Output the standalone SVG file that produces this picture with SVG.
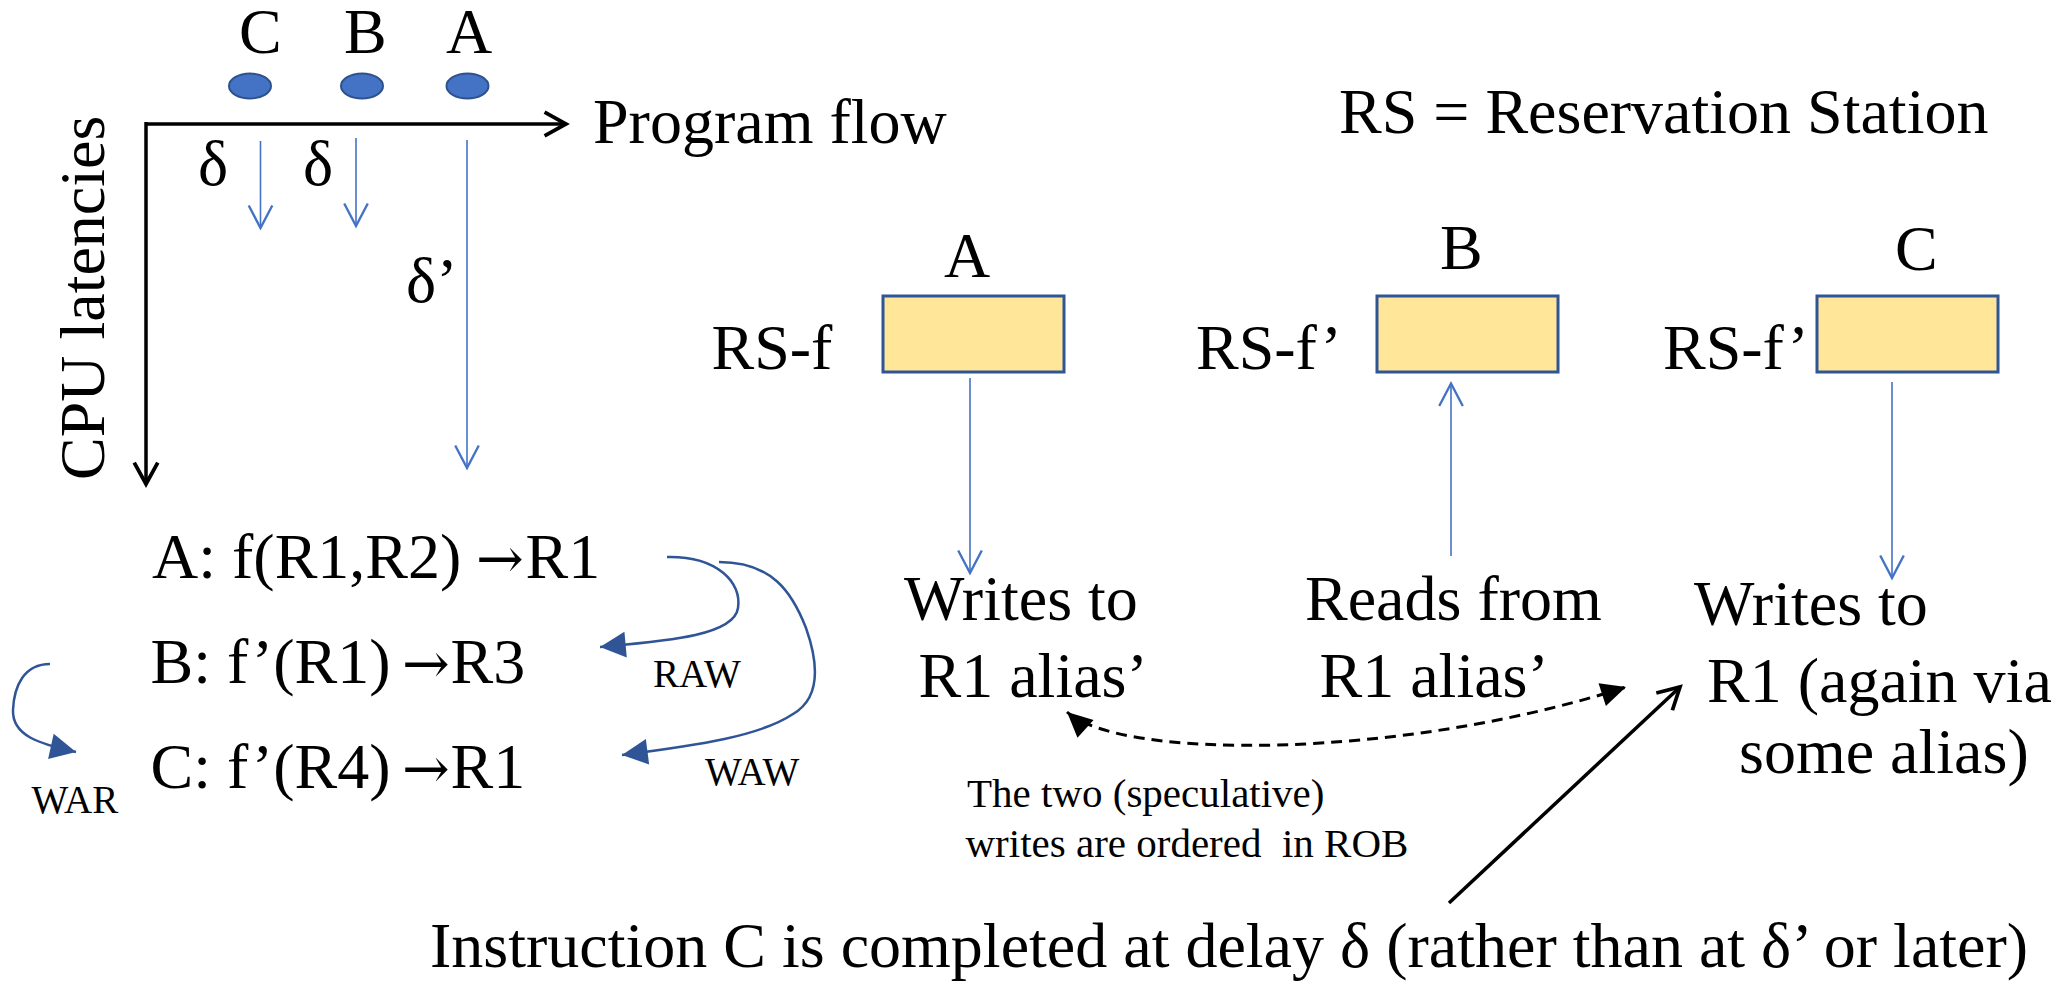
<svg xmlns="http://www.w3.org/2000/svg" width="2064" height="981" viewBox="0 0 2064 981">
<style>
text{font-family:"Liberation Serif","Times New Roman",serif;fill:#000}
.t64{font-size:64px}
.t39{font-size:39px}
.t41{font-size:41px}
.arr{font-family:"DejaVu Serif",serif;font-size:57px}
.box{fill:#FFE699;stroke:#2F5597;stroke-width:3}
.dot{fill:#4472C4;stroke:#2F528F;stroke-width:2}
.thin{fill:none;stroke:#4472C4;stroke-width:1.6}
.axis{fill:none;stroke:#000;stroke-width:3.5}
.dep{fill:none;stroke:#2F5597;stroke-width:2.5}
.dash{fill:none;stroke:#000;stroke-width:3;stroke-dasharray:11 7}
.solid{fill:none;stroke:#000;stroke-width:3.5}
</style>
<defs>
<marker id="openBlue" markerUnits="userSpaceOnUse" markerWidth="30" markerHeight="30" viewBox="-24 -14 28 28" refX="0" refY="0" orient="auto">
<path d="M-21,-11 L0,0 L-21,11" fill="none" stroke="#4472C4" stroke-width="2.2"/>
</marker>
<marker id="openBlack" markerUnits="userSpaceOnUse" markerWidth="30" markerHeight="30" viewBox="-24 -14 28 28" refX="0" refY="0" orient="auto">
<path d="M-20,-11 L0,0 L-20,11" fill="none" stroke="#000" stroke-width="3.5"/>
</marker>
<marker id="fillBlue" markerUnits="userSpaceOnUse" markerWidth="30" markerHeight="30" viewBox="-26 -14 28 28" refX="0" refY="0" orient="auto">
<path d="M0,0 L-24,-12 L-24,12 Z" fill="#2F5597"/>
</marker>
<marker id="fillBlack" markerUnits="userSpaceOnUse" markerWidth="30" markerHeight="30" viewBox="-27 -14 30 28" refX="0" refY="0" orient="auto-start-reverse">
<path d="M0,0 L-25,-12 L-25,12 Z" fill="#000"/>
</marker>
</defs>
<rect width="2064" height="981" fill="#fff"/>

<g id="axes">
<path class="axis" d="M146,124 H566" marker-end="url(#openBlack)"/>
<path class="axis" d="M146,122 V484" marker-end="url(#openBlack)"/>
<text class="t64" x="593" y="143">Program flow</text>
<text class="t64" transform="translate(104,480) rotate(-90)">CPU latencies</text>
</g>

<g id="instr-C-dot">
<text class="t64" x="239" y="53">C</text>
<ellipse class="dot" cx="250" cy="86" rx="21" ry="12.5"/>
</g>
<g id="instr-B-dot">
<text class="t64" x="344" y="53">B</text>
<ellipse class="dot" cx="362" cy="86" rx="21" ry="12.5"/>
</g>
<g id="instr-A-dot">
<text class="t64" x="446" y="53">A</text>
<ellipse class="dot" cx="467.5" cy="86" rx="21" ry="12.5"/>
</g>

<g id="latency-labels">
<text class="t64" x="198" y="185">δ</text>
<text class="t64" x="303" y="185">δ</text>
<text class="t64" x="406" y="302">δ’</text>
</g>

<g id="instr-A">
<text class="t64" x="152" y="578">A: f(R1,R2) <tspan class="arr" x="476">→</tspan><tspan x="525.5">R1</tspan></text>
</g>
<g id="instr-B">
<text class="t64" x="150.5" y="683">B: f’(R1) <tspan class="arr" x="402">→</tspan><tspan x="450.5">R3</tspan></text>
</g>
<g id="instr-C">
<text class="t64" x="150.5" y="788">C: f’(R4) <tspan class="arr" x="402">→</tspan><tspan x="450.5">R1</tspan></text>
</g>

<g id="dep-labels">
<text class="t39" x="653" y="687">RAW</text>
<text class="t39" x="705" y="785">WAW</text>
<text class="t39" x="31.5" y="813">WAR</text>
</g>

<g id="legend">
<text class="t64" x="1339" y="133">RS = Reservation Station</text>
</g>

<g id="rs-A">
<text class="t64" x="944" y="277">A</text>
<text class="t64" x="711.5" y="369">RS-f</text>
<rect class="box" x="883" y="296" width="181" height="76"/>
</g>
<g id="rs-B">
<text class="t64" x="1440" y="269">B</text>
<text class="t64" x="1196" y="369">RS-f’</text>
<rect class="box" x="1377" y="296" width="181" height="76"/>
</g>
<g id="rs-C">
<text class="t64" x="1895" y="270">C</text>
<text class="t64" x="1663" y="369">RS-f’</text>
<rect class="box" x="1817" y="296" width="181" height="76"/>
</g>

<g id="action-A">
<text class="t64" x="904" y="620">Writes to</text>
<text class="t64" x="918.5" y="697">R1 alias’</text>
</g>
<g id="action-B">
<text class="t64" x="1305" y="620">Reads from</text>
<text class="t64" x="1319.5" y="697">R1 alias’</text>
</g>
<g id="action-C">
<text class="t64" x="1694" y="625">Writes to</text>
<text class="t64" x="1707" y="702">R1 (again via</text>
<text class="t64" x="1739" y="773">some alias)</text>
</g>

<g id="rob-note">
<text class="t41" x="967" y="807">The two (speculative)</text>
<text class="t41" x="965.5" y="857" xml:space="preserve">writes are ordered  in ROB</text>
</g>

<g id="conclusion">
<text class="t64" x="430" y="967">Instruction C is completed at delay δ (rather than at δ’ or later)</text>
</g>

<g id="connectors">
<path class="thin" d="M260.5,141 V228" marker-end="url(#openBlue)"/>
<path class="thin" d="M356,138 V226" marker-end="url(#openBlue)"/>
<path class="thin" d="M467,140 V468" marker-end="url(#openBlue)"/>
<path class="dep" d="M667,557 C718,556 742,583 738,608 C734,636 665,641 600,647" marker-end="url(#fillBlue)"/>
<path class="dep" d="M719,562 C772,562 792,592 806,628 C818,662 822,697 793,714 C760,736 700,745 622,755" marker-end="url(#fillBlue)"/>
<path class="dep" d="M50,664 C24,664 14,686 13,710 C12,736 40,744 76,752" marker-end="url(#fillBlue)"/>
<path class="thin" d="M970,378 V573" marker-end="url(#openBlue)"/>
<path class="thin" d="M1451,556 V383.5" marker-end="url(#openBlue)"/>
<path class="thin" d="M1892,382 V578" marker-end="url(#openBlue)"/>
<path class="dash" d="M1067,712 C1120,760 1400,760 1626,687" marker-start="url(#fillBlack)" marker-end="url(#fillBlack)"/>
<path class="solid" d="M1449,903 L1680,687" marker-end="url(#openBlack)"/>
</g>
</svg>
